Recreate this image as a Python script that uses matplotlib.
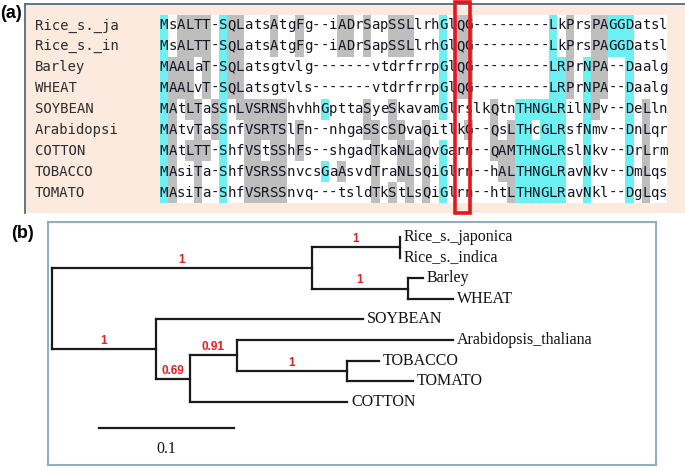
import matplotlib
matplotlib.use("Agg")
import matplotlib.pyplot as plt
from matplotlib.patches import Rectangle

# ---------------- data ----------------
SEQ_NAMES = ["Rice_s._ja", "Rice_s._in", "Barley", "WHEAT", "SOYBEAN",
             "Arabidopsi", "COTTON", "TOBACCO", "TOMATO"]
SEQUENCES = [
    "MsALTT-SQLatsAtgFg--iADrSapSSLlrhGlQG---------LkPrsPAGGDatsl",
    "MsALTT-SQLatsAtgFg--iADrSapSSLlrhGlQG---------LkPrsPAGGDatsl",
    "MAALaT-SQLatsgtvlg-------vtdrfrrpGlQG---------LRPrNPA--Daalg",
    "MAALvT-SQLatsgtvls-------vtdrfrrpGlQG---------LRPrNPA--Daalg",
    "MAtLTaSSnLVSRNShvhhGpttaSyeSkavamGlrslkQtnTHNGLRilNPv--DeLln",
    "MAtvTaSSnfVSRTSlFn--nhgaSScSDvaQitlkG--QsLTHcGLRsfNmv--DnLqr",
    "MAtLTT-ShfVStSShFs--shgadTkaNLaQvGarn--QAMTHNGLRslNkv--DrLrm",
    "MAsiTa-ShfVSRSSnvcsGaAsvdTraNLsQiGlrn--hALTHNGLRavNkv--DmLqs",
    "MAsiTa-ShfVSRSSnvq---tsldTkStLsQiGlrn--htLTHNGLRavNkl--DgLqs",
]
# columns (1-based) whose capital residues are shaded cyan; other capitals grey
CYAN_COLS = [1, 8, 20, 34, 43, 44, 45, 46, 47, 48, 51, 54, 55, 56]
# highlighted column (red box)
BOX_COL = 36

# tree: node -> (parent, branch length, support label)
TREE = {
    "grass": ("root", 0.1926, "1"),
    "rice": ("grass", 0.0652, "1"),
    "Rice_s._japonica": ("rice", 0.0, None),
    "Rice_s._indica": ("rice", 0.0, None),
    "bw": ("grass", 0.0711, "1"),
    "Barley": ("bw", 0.0111, None),
    "WHEAT": ("bw", 0.0333, None),
    "dicot": ("root", 0.0770, "1"),
    "SOYBEAN": ("dicot", 0.1533, None),
    "n069": ("dicot", 0.0252, "0.69"),
    "n091": ("n069", 0.0348, "0.91"),
    "Arabidopsis_thaliana": ("n091", 0.1600, None),
    "tt": ("n091", 0.0815, "1"),
    "TOBACCO": ("tt", 0.0237, None),
    "TOMATO": ("tt", 0.0489, None),
    "COTTON": ("n069", 0.1163, None),
}
TIP_ORDER = ["Rice_s._japonica", "Rice_s._indica", "Barley", "WHEAT", "SOYBEAN",
             "Arabidopsis_thaliana", "TOBACCO", "TOMATO", "COTTON"]
SCALE_LEN = 0.1
SCALE_LABEL = "0.1"

# ---------------- figure ----------------
W, H = 685, 471
fig = plt.figure(figsize=(W / 100, H / 100), dpi=100)
fig.patch.set_facecolor("white")


def px_axes(x0, y0, x1, y1):
    return fig.add_axes([x0 / W, 1 - y1 / H, (x1 - x0) / W, (y1 - y0) / H])


PEACH = "#FCEADF"
CYAN = "#6CF0F2"
GREY = "#BEBEBE"
MONO = "DejaVu Sans Mono"

# ---------- panel (a): alignment ----------
ax = px_axes(25, 4, 685, 213)
ax.set_facecolor(PEACH)
cw, c1 = 8.46, 164.0
rh, r0 = 20.9, 15.0
ax.set_xlim((25 - c1) / cw + 1, (685 - c1) / cw + 1)
ax.set_ylim((213 - r0) / rh - 0.5, (4 - r0) / rh - 0.5)
ax.set_xticks([]); ax.set_yticks([])
for s in ["right", "bottom"]:
    ax.spines[s].set_visible(False)
for s in ["left", "top"]:
    ax.spines[s].set_color("#4F6B80")
    ax.spines[s].set_linewidth(1.3)

nrow = len(SEQUENCES)
ncol = len(SEQUENCES[0])
ax.add_patch(Rectangle((0.5, -0.5), ncol, nrow, facecolor="white",
                       edgecolor="none", zorder=1))
for r, seq in enumerate(SEQUENCES):
    for c, ch in enumerate(seq, start=1):
        if ch.isupper():
            col = CYAN if c in CYAN_COLS else GREY
            ax.add_patch(Rectangle((c - 0.5, r - 0.5), 1, 1, facecolor=col,
                                   edgecolor="none", zorder=2))
        ax.text(c, r, ch, ha="center", va="center", family=MONO,
                fontsize=10.1, color="#151522", zorder=3)
    ax.text((35 - c1) / cw + 1, r, SEQ_NAMES[r], ha="left", va="center",
            family=MONO, fontsize=10.1, color="#2E2E2E", zorder=3)

ax.add_patch(Rectangle((BOX_COL - 0.65, (2 - r0) / rh - 0.5), 1.85,
                       (213 - 2) / rh, facecolor="none", edgecolor="#E8141B",
                       linewidth=2.6, zorder=5, clip_on=False))

fig.text(0 / W, 1 - 14 / H, "(a)", fontsize=13, fontweight="bold",
         family="Liberation Sans", ha="left", va="center")
fig.text(11 / W, 1 - 233 / H, "(b)", fontsize=13, fontweight="bold",
         family="Liberation Sans", ha="left", va="center")

# ---------- panel (b): tree ----------
bx = px_axes(48, 222, 656, 465)
unit = 1350.0  # px per substitution unit
root_px, tip0_px, tip_step = 52.0, 237.0, 20.6
bx.set_xlim((48 - root_px) / unit, (656 - root_px) / unit)
bx.set_ylim((465 - tip0_px) / tip_step, (222 - tip0_px) / tip_step)
bx.set_xticks([]); bx.set_yticks([])
for s in bx.spines.values():
    s.set_color("#8DAFC0")
    s.set_linewidth(1.5)

children = {}
for n, (p, bl, sup) in TREE.items():
    children.setdefault(p, []).append(n)

xpos = {"root": 0.0}


def set_x(n):
    for ch in children.get(n, []):
        xpos[ch] = xpos[n] + TREE[ch][1]
        set_x(ch)


set_x("root")
ypos = {t: i for i, t in enumerate(TIP_ORDER)}


def set_y(n):
    if n in ypos:
        return ypos[n]
    ys = [set_y(ch) for ch in children[n]]
    ypos[n] = (min(ys) + max(ys)) / 2
    return ypos[n]


set_y("root")
LW = 1.6
LC = "#1A1A1A"
for n, kids in children.items():
    ys = [ypos[k] for k in kids]
    bx.plot([xpos[n], xpos[n]], [min(ys), max(ys)], color=LC, lw=LW,
            solid_capstyle="projecting")
    for k in kids:
        bx.plot([xpos[n], xpos[k]], [ypos[k], ypos[k]], color=LC, lw=LW,
                solid_capstyle="projecting")
        sup = TREE[k][2]
        if sup:
            bx.text((xpos[n] + xpos[k]) / 2, ypos[k] - 0.1, sup, ha="center",
                    va="bottom", color="#E0211D", fontsize=8.5,
                    fontweight="bold", family="Liberation Sans")
for t in TIP_ORDER:
    bx.text(xpos[t] + 4 / unit, ypos[t], t, ha="left", va="center",
            family="Liberation Serif", fontsize=11.5, color="#111111")

sx0 = (99 - root_px) / unit
sy = (428.3 - tip0_px) / tip_step
bx.plot([sx0, sx0 + SCALE_LEN], [sy, sy], color=LC, lw=LW)
bx.text(sx0 + SCALE_LEN / 2, sy + 1.0, SCALE_LABEL, ha="center", va="center",
        family="Liberation Serif", fontsize=11.5, color="#111111")

fig.savefig("out.png", dpi=100)
